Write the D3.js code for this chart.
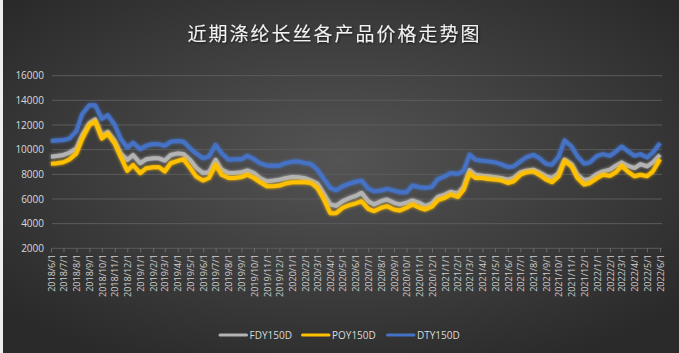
<!DOCTYPE html>
<html>
<head>
<meta charset="utf-8">
<script src="https://cdn.jsdelivr.net/npm/d3@7"></script>
<style>
  html, body { margin: 0; padding: 0; background: #2b2b2b; }
  svg { display: block; }
</style>
</head>
<body>
<div id="chart"></div>
<script>
/* CONSTANTS AND GLOBALS */
const width = 679,
  height = 353,
  margin = { top: 75.7, bottom: 104.7, left: 51, right: 19 }

const title = "近期涤纶长丝各产品价格走势图"
const seriesNames = ["FDY150D", "POY150D", "DTY150D"]
const seriesColors = ["#b3b3b3", "#ffc000", "#4472c4"]
const yTicks = [2000, 4000, 6000, 8000, 10000, 12000, 14000, 16000]

// semi-monthly readings, 2018/6/1 .. 2022/6/1
const fdy = [
  9430, 9480, 9570, 9750, 10100, 11180, 12150, 12450, 11100, 11450, 10700, 9700, 9160, 9570,
  8900, 9220, 9300, 9300, 9110, 9570, 9700, 9650, 9160, 8550, 8100, 8160, 9180, 8380, 8100, 8100, 8160, 8320, 8100, 7700, 7430, 7490, 7570, 7680,
  7780, 7760, 7680, 7490, 7250, 6500, 5550, 5450, 5830, 6040, 6250, 6500, 5820, 5560, 5820, 5960, 5690, 5560, 5690, 5880, 5690, 5420, 5640, 6170,
  6360, 6580, 6440, 6980, 8350, 7970, 7890, 7840, 7760, 7700, 7570, 7700, 8160, 8300, 8380, 8160, 7840, 7700, 8110, 9200, 8830, 7970, 7520, 7620,
  8030, 8240, 8380, 8700, 8970, 8700, 8510, 8830, 8640, 8970, 9580
]
const poy = [
  8850, 8900, 8980, 9200, 9700, 10900, 12000, 12300, 10900, 11300, 10500, 9440, 8280, 8760,
  8090, 8500, 8580, 8580, 8230, 8900, 9090, 9220, 8500, 7830, 7500, 7700, 8780, 7970, 7700, 7700, 7780, 7970, 7700, 7380, 7030, 7030, 7090, 7250,
  7350, 7350, 7350, 7300, 6900, 6090, 4850, 4850, 5290, 5480, 5650, 5820, 5200, 5020, 5290, 5420, 5150, 5070, 5290, 5560, 5290, 5150, 5370, 5900,
  6090, 6360, 6170, 6760, 8100, 7700, 7700, 7620, 7570, 7520, 7300, 7440, 7970, 8160, 8240, 7970, 7570, 7360, 7840, 9100, 8640, 7700, 7170, 7300,
  7700, 7970, 7890, 8160, 8700, 8240, 7840, 7970, 7840, 8240, 9230
]
const dty = [
  10700, 10750, 10780, 10900, 11500, 12900, 13600, 13600, 12500, 12800, 12000, 10900, 10160, 10570,
  10030, 10320, 10460, 10430, 10320, 10640, 10700, 10650, 10100, 9700, 9300, 9450, 10390, 9720, 9180, 9230, 9230, 9500, 9230, 8910, 8700, 8720, 8700, 8910,
  9020, 9050, 8910, 8830, 8380, 7700, 6900, 6700, 7030, 7220, 7400, 7490, 6840, 6630, 6680, 6820, 6680, 6550, 6550, 7090, 6950, 6900, 6980, 7620,
  7840, 8110, 8030, 8300, 9600, 9180, 9100, 9050, 8970, 8830, 8590, 8640, 9050, 9370, 9580, 9320, 8830, 8780, 9450, 10750, 10260, 9450, 8860, 8970,
  9500, 9640, 9500, 9850, 10260, 9910, 9500, 9640, 9370, 9770, 10520
]

// dates: 1st and 15th of each month
const dates = []
d3.timeMonth.range(new Date(2018, 5, 1), new Date(2022, 5, 1)).forEach(m => {
  dates.push(m)
  dates.push(new Date(m.getFullYear(), m.getMonth(), 15))
})
dates.push(new Date(2022, 5, 1))
const monthTicks = d3.timeMonth.range(new Date(2018, 5, 1), new Date(2022, 5, 2))

const series = [fdy, poy, dty].map((vals, i) => ({
  name: seriesNames[i],
  color: seriesColors[i],
  values: vals.map((v, j) => ({ date: dates[j], value: v }))
}))

const svg = d3.select("#chart")
  .append("svg")
  .attr("width", width)
  .attr("height", height)

const defs = svg.append("defs")
const bg = defs.append("radialGradient")
  .attr("id", "bg")
  .attr("cx", "50%").attr("cy", "45%").attr("r", "65%")
bg.append("stop").attr("offset", "0%").attr("stop-color", "#545454")
bg.append("stop").attr("offset", "100%").attr("stop-color", "#2a2a2a")

const glow = defs.append("filter")
  .attr("id", "glow")
  .attr("x", "-5%").attr("y", "-20%").attr("width", "110%").attr("height", "140%")
glow.append("feGaussianBlur").attr("in", "SourceGraphic").attr("stdDeviation", 1.8).attr("result", "b")
const merge = glow.append("feMerge")
merge.append("feMergeNode").attr("in", "b")
merge.append("feMergeNode").attr("in", "SourceGraphic")

const shadow = defs.append("filter").attr("id", "tshadow")
shadow.append("feDropShadow")
  .attr("dx", 1).attr("dy", 1).attr("stdDeviation", 1)
  .attr("flood-color", "#000").attr("flood-opacity", 0.6)

svg.append("rect")
  .attr("width", width)
  .attr("height", height)
  .attr("fill", "url(#bg)")

svg.append("rect")
  .attr("width", 3)
  .attr("height", height)
  .attr("fill", "#eeeeee")

//scales
const xScale = d3.scaleTime()
  .domain([new Date(2018, 5, 1), new Date(2022, 5, 1)])
  .range([margin.left, width - margin.right])

const yScale = d3.scaleLinear()
  .domain([2000, 16000])
  .range([height - margin.bottom, margin.top])

//grid lines
svg.append("g")
  .attr("class", "grid")
  .selectAll("line")
  .data(yTicks)
  .join("line")
  .attr("x1", margin.left + 1)
  .attr("x2", width - 17)
  .attr("y1", d => yScale(d))
  .attr("y2", d => yScale(d))
  .attr("stroke", "#5c5c5c")
  .attr("stroke-width", 1)

//y-axis
const yAxis = d3.axisLeft(yScale)
  .tickValues(yTicks)
  .tickSize(0)
  .tickPadding(7)
  .tickFormat(d3.format("d"))

svg.append("g")
  .attr("class", "y-axis")
  .attr("transform", `translate(${margin.left}, 0)`)
  .call(yAxis)
  .call(g => g.select(".domain").remove())
  .selectAll("text")
  .attr("fill", "#d9d9d9")
  .attr("font-family", "Open Sans, sans-serif")
  .attr("font-size", "10px")

//x-axis
const xAxis = d3.axisBottom(xScale)
  .tickValues(monthTicks)
  .tickSize(4)
  .tickPadding(6)
  .tickFormat(d3.timeFormat("%Y/%-m/%-d"))

svg.append("g")
  .attr("class", "x-axis")
  .attr("transform", `translate(0, ${height - margin.bottom})`)
  .call(xAxis)
  .call(g => g.select(".domain").remove())
  .call(g => g.selectAll(".tick line").attr("stroke", "#6a6a6a"))
  .selectAll("text")
  .attr("fill", "#d0d0d0")
  .attr("font-family", "Open Sans, sans-serif")
  .attr("font-size", "9px")
  .attr("text-anchor", "end")
  .attr("transform", "rotate(-90)")
  .attr("x", -6)
  .attr("y", 0)
  .attr("dy", "0.35em")

//lines
const lineGen = d3.line()
  .x(d => xScale(d.date))
  .y(d => yScale(d.value))

svg.append("g")
  .attr("class", "lines")
  .selectAll("path")
  .data(series)
  .join("path")
  .attr("d", d => lineGen(d.values))
  .attr("fill", "none")
  .attr("stroke", d => d.color)
  .attr("stroke-width", 4)
  .attr("stroke-linejoin", "round")
  .attr("filter", "url(#glow)")

//title
svg.append("text")
  .attr("x", width / 2 - 5)
  .attr("y", 34)
  .attr("dy", "0.35em")
  .attr("text-anchor", "middle")
  .attr("fill", "#f2f2f2")
  .attr("font-family", "Noto Sans CJK SC, sans-serif")
  .attr("font-size", "19px")
  .attr("letter-spacing", "2px")
  .attr("filter", "url(#tshadow)")
  .text(title)

//legend
const legendX = [220, 302.5, 387.5]
const legend = svg.append("g")
  .attr("class", "legend")
  .selectAll("g")
  .data(series)
  .join("g")
  .attr("transform", (d, i) => `translate(${legendX[i]}, 335)`)

legend.append("line")
  .attr("x1", 0).attr("x2", 26.5)
  .attr("stroke", d => d.color)
  .attr("stroke-width", 3)
  .attr("stroke-linecap", "round")

legend.append("text")
  .attr("x", 29.5)
  .attr("dy", "0.35em")
  .attr("fill", "#d9d9d9")
  .attr("font-family", "Open Sans, sans-serif")
  .attr("font-size", "10px")
  .text(d => d.name)
</script>
</body>
</html>
